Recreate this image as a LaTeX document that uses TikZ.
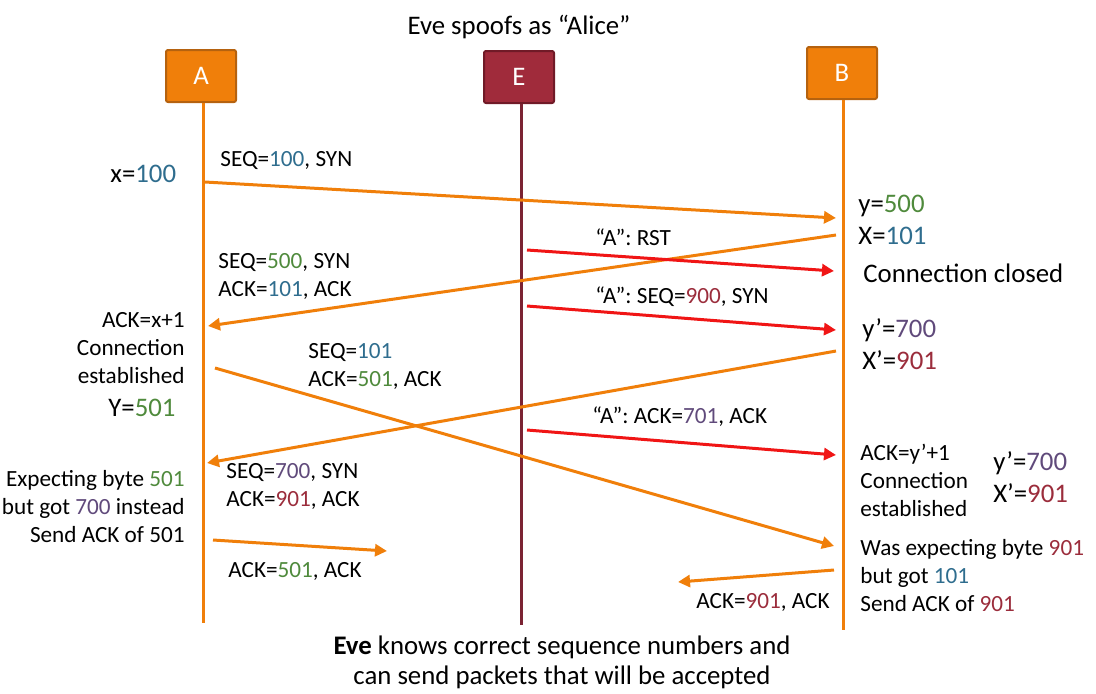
\documentclass[tikz,border=0pt]{standalone}
\usepackage{fontspec}
\setmainfont{Carlito}
\usetikzlibrary{arrows.meta}
\definecolor{orng}{HTML}{F07F0A}
\definecolor{orngdk}{HTML}{B5620F}
\definecolor{evefill}{HTML}{A02B3B}
\definecolor{evedk}{HTML}{701A27}
\definecolor{eveline}{HTML}{7B2333}
\definecolor{spoofred}{HTML}{F01515}
\definecolor{numblue}{HTML}{2F6D8E}
\definecolor{numgreen}{HTML}{4F8A3C}
\definecolor{numpurple}{HTML}{604A7B}
\definecolor{numred}{HTML}{9B2D3C}
\newcommand{\blu}[1]{\textcolor{numblue}{#1}}
\newcommand{\grn}[1]{\textcolor{numgreen}{#1}}
\newcommand{\prp}[1]{\textcolor{numpurple}{#1}}
\newcommand{\drd}[1]{\textcolor{numred}{#1}}
\tikzset{
  host/.style={draw=orngdk, fill=orng, line width=1pt, rounded corners=1pt,
    minimum width=35pt, minimum height=26pt, text=white,
    font=\fontsize{13.4}{16}\selectfont},
  lbl/.style={inner sep=0pt, font=\fontsize{11.6}{14}\selectfont},
  biglbl/.style={inner sep=0pt, font=\fontsize{13.4}{16}\selectfont},
  msg/.style={orng, line width=1.5pt, -{Triangle[length=6pt,width=6pt]}},
  spoof/.style={msg, spoofred},
}
\begin{document}
\begin{tikzpicture}[x=0.5pt,y=-0.5pt]
\useasboundingbox (0,0) rectangle (1096,693);
% hosts and lifelines
\node[biglbl] (title) at (519,27) {Eve spoofs as “Alice”};
\node[host] (A) at (201,76) {A};
\node[host, fill=evefill, draw=evedk] (E) at (519,77) {E};
\node[host] (B) at (842,73) {B};
\coordinate (Aend) at (203,623);
\coordinate (Eend) at (521,625);
\coordinate (Bend) at (843,630);
\draw[orng, line width=1.5pt] (A.south -| Aend) -- (Aend);
\draw[eveline, line width=1.5pt] (E.south -| Eend) -- (Eend);
\draw[orng, line width=1.5pt] (B.south -| Bend) -- (Bend);
% end points of the messages
\coordinate (a1) at (205,182);  \coordinate (b1) at (836,218);
\coordinate (b2) at (836,235);  \coordinate (a2) at (208,326);
\coordinate (e1) at (527,250);  \coordinate (b3) at (834,271);
\coordinate (e2) at (527,306);  \coordinate (b4) at (836,330);
\coordinate (a3) at (215,368);  \coordinate (b5) at (834,546);
\coordinate (b6) at (836,351);  \coordinate (a4) at (207,463);
\coordinate (e3) at (527,430);  \coordinate (b7) at (836,455);
\coordinate (a5) at (213,540);  \coordinate (m1) at (387,551);
\coordinate (b8) at (834,570);  \coordinate (m2) at (678,582);
% handshake
\draw[msg] (a1) -- (b1);
\draw[msg] (b2) -- (a2);
\draw[msg] (a3) -- (b5);
\draw[msg] (b6) -- (a4);
\draw[msg] (a5) -- (m1);
\draw[msg] (b8) -- (m2);
% Eve
\draw[spoof] (e1) -- (b3);
\draw[spoof] (e2) -- (b4);
\draw[spoof] (e3) -- (b7);
% labels on the arrows
\node[lbl, anchor=west] (l1) at (220,160) {SEQ=\blu{100}, SYN};
\node[lbl, anchor=west, align=left] (l2) at (218,276) {SEQ=\grn{500}, SYN\\ACK=\blu{101}, ACK};
\node[lbl, anchor=west, align=left] (l3) at (308,366) {SEQ=\blu{101}\\ACK=\grn{501}, ACK};
\node[lbl, anchor=west, align=left] (l4) at (226,486) {SEQ=\prp{700}, SYN\\ACK=\drd{901}, ACK};
\node[lbl, anchor=west] (l5) at (228,571) {ACK=\grn{501}, ACK};
\node[lbl, anchor=east] (l6) at (830,602) {ACK=\drd{901}, ACK};
\node[lbl, anchor=west] (s1) at (595,237) {“A”: RST};
\node[lbl, anchor=west] (s2) at (595,297) {“A”: SEQ=\drd{900}, SYN};
\node[lbl, anchor=west] (s3) at (592,417) {“A”: ACK=\prp{701}, ACK};
% state of A
\node[biglbl, anchor=west] (xa) at (110,174) {x=\blu{100}};
\node[lbl, anchor=east, align=right] (ca) at (185,348) {ACK=x+1\\Connection\\established};
\node[biglbl, anchor=west] (ya) at (108,408) {Y=\grn{501}};
\node[lbl, anchor=east, align=right] (wa) at (185,507) {Expecting byte \grn{501}\\but got \prp{700} instead\\Send ACK of 501};
% state of B
\node[biglbl, anchor=west, align=left] (yb) at (858,220) {y=\grn{500}\\X=\blu{101}};
\node[biglbl, anchor=west] (cb) at (863,273) {Connection closed};
\node[biglbl, anchor=west, align=left] (yb2) at (862,344) {y’=\prp{700}\\X’=\drd{901}};
\node[lbl, anchor=west, align=left] (cb2) at (860,480) {ACK=y’+1\\Connection\\established};
\node[biglbl, anchor=west, align=left] (yb3) at (993,477) {y’=\prp{700}\\X’=\drd{901}};
\node[lbl, anchor=west, align=left] (wb) at (860,576) {Was expecting byte \drd{901}\\but got \blu{101}\\Send ACK of \drd{901}};
% note
\node[inner sep=0pt, align=center, font=\fontsize{13.4}{15}\selectfont] (note) at (562,662)
  {\textbf{Eve} knows correct sequence numbers and\\can send packets that will be accepted};
\end{tikzpicture}
\end{document}
